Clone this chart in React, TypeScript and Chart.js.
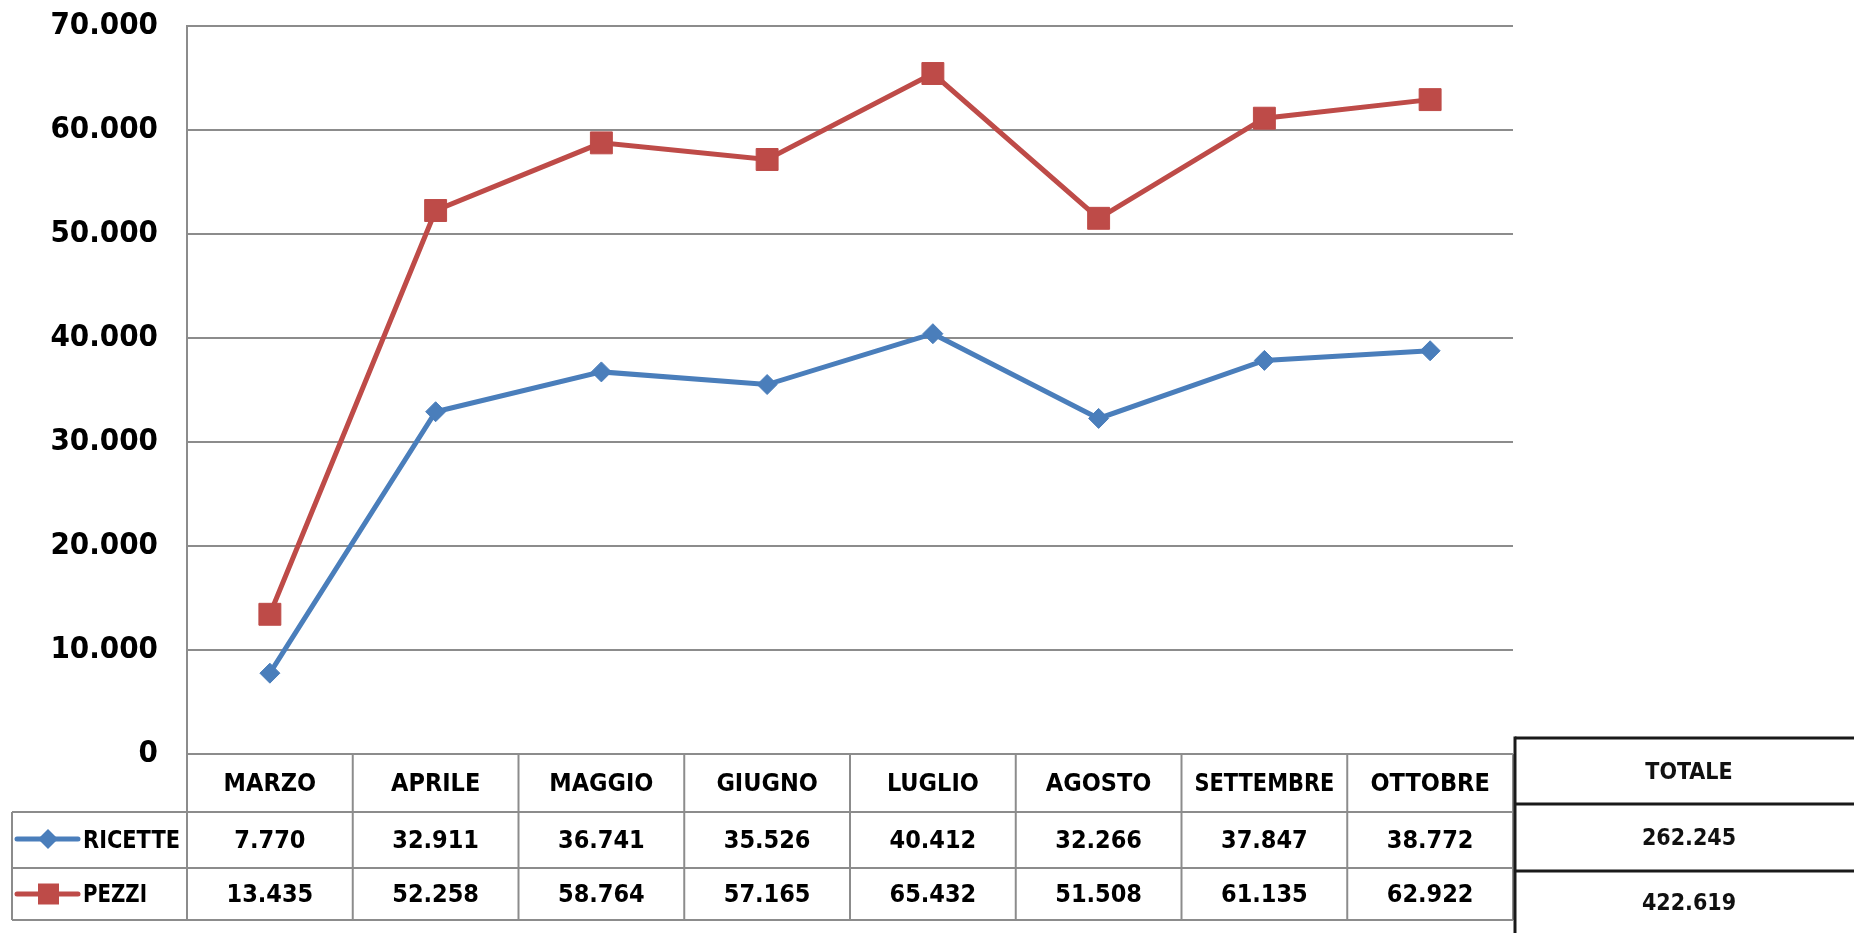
import React, { useEffect, useRef } from 'react';
import { Chart, registerables } from 'chart.js';

Chart.register(...registerables);

const categories = ['MARZO', 'APRILE', 'MAGGIO', 'GIUGNO', 'LUGLIO', 'AGOSTO', 'SETTEMBRE', 'OTTOBRE'];
const ricette = [7770, 32911, 36741, 35526, 40412, 32266, 37847, 38772];
const pezzi = [13435, 52258, 58764, 57165, 65432, 51508, 61135, 62922];
const seriesNames = ['RICETTE', 'PEZZI'];
const totalsHeader = 'TOTALE';
const totals = [262245, 422619];
const yTickLabels = ['0', '10.000', '20.000', '30.000', '40.000', '50.000', '60.000', '70.000'];

const BLUE = '#4A7EBB';
const RED = '#BE4B48';
const GRID = '#8C8C8C';
const FONT = '"DejaVu Sans Condensed", "Liberation Sans", Arial, sans-serif';

const fmt = (n: number) => String(n).replace(/\B(?=(\d{3})+(?!\d))/g, '.');

const tablePlugin = {
  id: 'dataTable',
  afterDraw(chart: any) {
    const ctx: CanvasRenderingContext2D = chart.ctx;
    const xs = chart.scales.x;
    const area = chart.chartArea;
    const right = area.right;
    const top0 = area.bottom;
    const r1 = 812;
    const r2 = 868;
    const r3 = 920;
    const legendLeft = 12;
    const line = (x1: number, y1: number, x2: number, y2: number) => {
      ctx.beginPath();
      ctx.moveTo(x1, y1);
      ctx.lineTo(x2, y2);
      ctx.stroke();
    };
    ctx.save();
    ctx.strokeStyle = GRID;
    ctx.lineWidth = 2;
    line(legendLeft, r1, right, r1);
    line(legendLeft, r2, right, r2);
    line(legendLeft, r3, right, r3);
    line(legendLeft, r1, legendLeft, r3);
    const half = (xs.getPixelForValue(1) - xs.getPixelForValue(0)) / 2;
    for (let i = 0; i <= categories.length; i++) {
      const x = i < categories.length ? xs.getPixelForValue(i) - half : xs.getPixelForValue(categories.length - 1) + half;
      line(x, top0, x, r3);
    }

    // texts
    ctx.fillStyle = '#000';
    ctx.textAlign = 'center';
    ctx.textBaseline = 'middle';
    ctx.font = `bold 25px ${FONT}`;
    const hy = (top0 + r1) / 2 + 1;
    const y1 = (r1 + r2) / 2 + 1;
    const y2 = (r2 + r3) / 2 + 1;
    categories.forEach((c, i) => {
      const x = xs.getPixelForValue(i);
      ctx.fillText(c, x, hy, 140);
      ctx.fillText(fmt(ricette[i]), x, y1);
      ctx.fillText(fmt(pezzi[i]), x, y2);
    });

    // legend keys
    const drawKey = (y: number, color: string, kind: string) => {
      ctx.strokeStyle = color;
      ctx.lineWidth = 5;
      ctx.lineCap = 'round';
      line(17, y, 78, y);
      ctx.fillStyle = color;
      ctx.beginPath();
      if (kind === 'diamond') {
        ctx.moveTo(48, y - 10);
        ctx.lineTo(58, y);
        ctx.lineTo(48, y + 10);
        ctx.lineTo(38, y);
      } else {
        ctx.rect(38, y - 10.5, 21, 21);
      }
      ctx.closePath();
      ctx.fill();
    };
    drawKey(y1 - 2, BLUE, 'diamond');
    drawKey(y2 - 1, RED, 'square');
    ctx.fillStyle = '#000';
    ctx.textAlign = 'left';
    ctx.font = `bold 25px ${FONT}`;
    ctx.fillText(seriesNames[0], 83, y1, 97);
    ctx.fillText(seriesNames[1], 83, y2, 64);

    // totals table
    const tl = 1515;
    const tr = chart.width + 5;
    const tt = 738;
    const tm1 = 804;
    const tm2 = 871;
    const tb = chart.height + 5;
    ctx.strokeStyle = '#1A1A1A';
    ctx.lineWidth = 3;
    ctx.lineCap = 'butt';
    line(tl, tt, tr, tt);
    line(tl, tm1, tr, tm1);
    line(tl, tm2, tr, tm2);
    line(tl, tt - 1.5, tl, tb);
    const tcx = 1689;
    ctx.fillStyle = '#111';
    ctx.textAlign = 'center';
    ctx.font = `bold 23px ${FONT}`;
    ctx.fillText(totalsHeader, tcx, (tt + tm1) / 2 + 2);
    ctx.fillText(fmt(totals[0]), tcx, (tm1 + tm2) / 2 + 2);
    ctx.fillText(fmt(totals[1]), tcx, (tm2 + 933) / 2 + 2);
    ctx.restore();
  },
};

export default function App() {
  const canvasRef = useRef<HTMLCanvasElement | null>(null);

  useEffect(() => {
    document.body.style.margin = '0';
    const canvas = canvasRef.current;
    if (!canvas) return;
    const chart = new Chart(canvas, {
      type: 'line',
      data: {
        labels: categories,
        datasets: [
          {
            label: seriesNames[0],
            data: ricette,
            borderColor: BLUE,
            backgroundColor: BLUE,
            borderWidth: 5,
            tension: 0,
            pointStyle: 'rectRot',
            pointRadius: 10,
            pointBorderWidth: 1,
            pointBackgroundColor: BLUE,
            pointBorderColor: BLUE,
            fill: false,
          },
          {
            label: seriesNames[1],
            data: pezzi,
            borderColor: RED,
            backgroundColor: RED,
            borderWidth: 5,
            tension: 0,
            pointStyle: 'rect',
            pointRadius: 15.5,
            pointBorderWidth: 1,
            pointBackgroundColor: RED,
            pointBorderColor: RED,
            fill: false,
          },
        ],
      },
      options: {
        animation: false,
        responsive: false,
        maintainAspectRatio: false,
        layout: { padding: { left: 0, right: 341, top: 26, bottom: 179 } },
        plugins: {
          legend: { display: false },
          tooltip: { enabled: false },
        },
        scales: {
          x: { type: 'category', display: false, offset: true },
          y: {
            min: 0,
            max: 70000,
            ticks: {
              stepSize: 10000,
              callback: (_v: any, i: number) => yTickLabels[i],
              font: { family: FONT, size: 31, weight: 'bold' },
              color: '#000',
              padding: 29,
            },
            grid: { color: GRID, lineWidth: 2, drawTicks: false },
            border: { display: true, color: GRID, width: 2 },
            afterFit: (s: any) => {
              s.width = 187;
              s.paddingTop = 0;
              s.paddingBottom = 0;
            },
          },
        },
      },
      plugins: [tablePlugin],
    } as any);
    return () => chart.destroy();
  }, []);

  return (
    <div style={{ position: 'fixed', left: 0, top: 0, width: 1854, height: 933, background: '#fff', overflow: 'hidden' }}>
      <canvas ref={canvasRef} width={1854} height={933} style={{ display: 'block', width: 1854, height: 933 }} />
    </div>
  );
}
